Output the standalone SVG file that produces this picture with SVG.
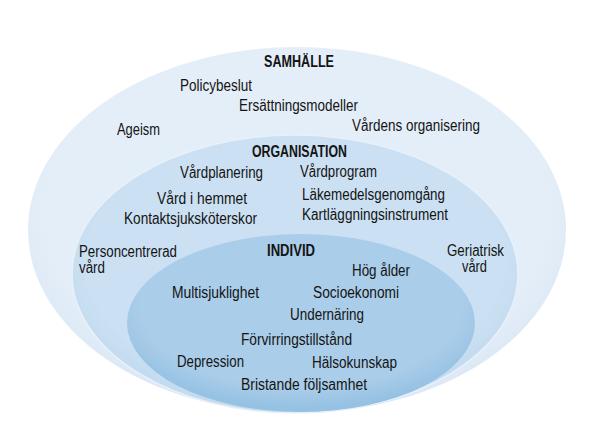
<svg xmlns="http://www.w3.org/2000/svg" width="599" height="434" viewBox="0 0 599 434">
  <style>
    text { font-family: "Liberation Sans", Arial, sans-serif; font-size: 16px; fill: #141414; }
    .h { font-weight: bold; }
  </style>
  <defs>
    <radialGradient id="gOuter" cx="50%" cy="45%" r="55%">
      <stop offset="0.85" stop-color="#e4eef8"/>
      <stop offset="1" stop-color="#dbe8f5"/>
    </radialGradient>
    <radialGradient id="gMid" cx="50%" cy="45%" r="55%">
      <stop offset="0.85" stop-color="#cbe0f2"/>
      <stop offset="1" stop-color="#c2daef"/>
    </radialGradient>
    <radialGradient id="gIn" cx="50%" cy="40%" r="58%">
      <stop offset="0.8" stop-color="#aacde9"/>
      <stop offset="1" stop-color="#95c1e3"/>
    </radialGradient>
  </defs>
  <rect width="599" height="434" fill="#ffffff"/>

  <g id="samhalle">
    <ellipse cx="297" cy="230" rx="269" ry="183" fill="url(#gOuter)"/>
    <text class="h" x="264" y="67" textLength="70" lengthAdjust="spacingAndGlyphs">SAMHÄLLE</text>
    <text x="180" y="91" textLength="72" lengthAdjust="spacingAndGlyphs">Policybeslut</text>
    <text x="239" y="111" textLength="119" lengthAdjust="spacingAndGlyphs">Ersättningsmodeller</text>
    <text x="352" y="131" textLength="128" lengthAdjust="spacingAndGlyphs">Vårdens organisering</text>
    <text x="117" y="135" textLength="43" lengthAdjust="spacingAndGlyphs">Ageism</text>
  </g>

  <g id="organisation">
    <ellipse cx="295" cy="274" rx="223" ry="139" fill="url(#gMid)" stroke="#e8f1fa" stroke-width="1.5"/>
    <text class="h" x="252" y="157" textLength="95" lengthAdjust="spacingAndGlyphs">ORGANISATION</text>
    <text x="180" y="178" textLength="83" lengthAdjust="spacingAndGlyphs">Vårdplanering</text>
    <text x="300" y="177" textLength="77" lengthAdjust="spacingAndGlyphs">Vårdprogram</text>
    <text x="157" y="204" textLength="90" lengthAdjust="spacingAndGlyphs">Vård i hemmet</text>
    <text x="302" y="200" textLength="143" lengthAdjust="spacingAndGlyphs">Läkemedelsgenomgång</text>
    <text x="124" y="224" textLength="133" lengthAdjust="spacingAndGlyphs">Kontaktsjuksköterskor</text>
    <text x="302" y="220" textLength="146" lengthAdjust="spacingAndGlyphs">Kartläggningsinstrument</text>
    <text x="79" y="257" textLength="98" lengthAdjust="spacingAndGlyphs">Personcentrerad</text>
    <text x="79" y="273" textLength="26" lengthAdjust="spacingAndGlyphs">vård</text>
    <text x="447" y="256" textLength="57" lengthAdjust="spacingAndGlyphs">Geriatrisk</text>
    <text x="462" y="272" textLength="25" lengthAdjust="spacingAndGlyphs">vård</text>
  </g>

  <g id="individ">
    <ellipse cx="301" cy="323" rx="174" ry="89" fill="url(#gIn)"/>
    <text class="h" x="267" y="256" textLength="48" lengthAdjust="spacingAndGlyphs">INDIVID</text>
    <text x="352" y="276" textLength="58" lengthAdjust="spacingAndGlyphs">Hög ålder</text>
    <text x="172" y="298" textLength="87" lengthAdjust="spacingAndGlyphs">Multisjuklighet</text>
    <text x="313" y="298" textLength="86" lengthAdjust="spacingAndGlyphs">Socioekonomi</text>
    <text x="290" y="320" textLength="74" lengthAdjust="spacingAndGlyphs">Undernäring</text>
    <text x="241" y="345" textLength="111" lengthAdjust="spacingAndGlyphs">Förvirringstillstånd</text>
    <text x="177" y="367" textLength="67" lengthAdjust="spacingAndGlyphs">Depression</text>
    <text x="312" y="368" textLength="85" lengthAdjust="spacingAndGlyphs">Hälsokunskap</text>
    <text x="241" y="390" textLength="126" lengthAdjust="spacingAndGlyphs">Bristande följsamhet</text>
  </g>
</svg>
